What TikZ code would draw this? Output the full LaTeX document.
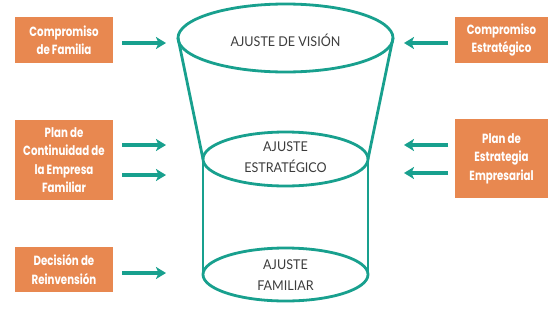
\documentclass[tikz,border=0pt]{standalone}
\usepackage{fontspec}
\usetikzlibrary{shapes.geometric,arrows.meta}
\newfontfamily\boxfont[FakeStretch=0.77]{Poppins}
\newfontfamily\labfont[FakeStretch=0.93]{Lato}
\definecolor{teal1}{RGB}{24,160,142}
\definecolor{orange1}{RGB}{232,136,80}
\definecolor{gray1}{RGB}{60,60,60}
\tikzset{
  obox/.style={fill=orange1, draw=none, text=white, font=\boxfont\bfseries\fontsize{13.3}{18.5}\selectfont, align=center, inner sep=0pt, outer sep=0pt},
  ell/.style={ellipse, draw=teal1, line width=2.8pt, inner sep=0pt, outer sep=0pt},
  lab/.style={text=gray1, font=\labfont\fontsize{13.5}{21}\selectfont, align=center},
  side/.style={draw=teal1, line width=2.8pt},
  arr/.style={draw=teal1, line width=4pt, -{Stealth[length=10pt,width=12pt,inset=2.5pt]}}
}
\begin{document}
\begin{tikzpicture}[x=1pt,y=-1pt]
\useasboundingbox (0,0) rectangle (559,308);
% ellipses
\node[ell, minimum width=215pt, minimum height=68pt] (top) at (285.5,38) {};
\node[ell, minimum width=165pt, minimum height=54pt] (mid) at (285.5,159) {};
\node[ell, minimum width=165pt, minimum height=53pt] (bot) at (285.5,274.5) {};
\draw[side] (top.west) -- (mid.west);
\draw[side] (top.east) -- (mid.east);
\draw[side] (mid.west) -- (bot.west);
\draw[side] (mid.east) -- (bot.east);
% labels
\node[lab] (ltop) at (285.5,40) {AJUSTE DE VISIÓN};
\node[lab] (lmid) at (285.5,157.5) {AJUSTE\\ESTRATÉGICO};
\node[lab] (lbot) at (285.5,275) {AJUSTE\\FAMILIAR};
% boxes
\node[obox, minimum width=98pt, minimum height=46pt] (b1) at (64,40) {Compromiso\\de Familia};
\node[obox, minimum width=98pt, minimum height=80pt] (b2) at (64,160) {Plan de\\Continuidad de\\la Empresa\\Familiar};
\node[obox, minimum width=98pt, minimum height=45pt] (b3) at (64,269.5) {Decisión de\\Reinvensión};
\node[obox, minimum width=93pt, minimum height=46pt] (b4) at (501.5,40) {Compromiso\\Estratégico};
\node[obox, minimum width=93pt, minimum height=79pt] (b5) at (501.5,158.5) {Plan de\\Estrategia\\Empresarial};
% arrows
\coordinate (a1s) at (122,43); \coordinate (a1e) at (166,43);
\coordinate (a2s) at (122,145); \coordinate (a2e) at (166,145);
\coordinate (a3s) at (122,175); \coordinate (a3e) at (166,175);
\coordinate (a4s) at (122,273); \coordinate (a4e) at (166,273);
\coordinate (a5s) at (448,43); \coordinate (a5e) at (404,43);
\coordinate (a6s) at (448,145); \coordinate (a6e) at (404,145);
\coordinate (a7s) at (448,173); \coordinate (a7e) at (404,173);
\draw[arr] (a1s) -- (a1e);
\draw[arr] (a2s) -- (a2e);
\draw[arr] (a3s) -- (a3e);
\draw[arr] (a4s) -- (a4e);
\draw[arr] (a5s) -- (a5e);
\draw[arr] (a6s) -- (a6e);
\draw[arr] (a7s) -- (a7e);
\end{tikzpicture}
\end{document}
